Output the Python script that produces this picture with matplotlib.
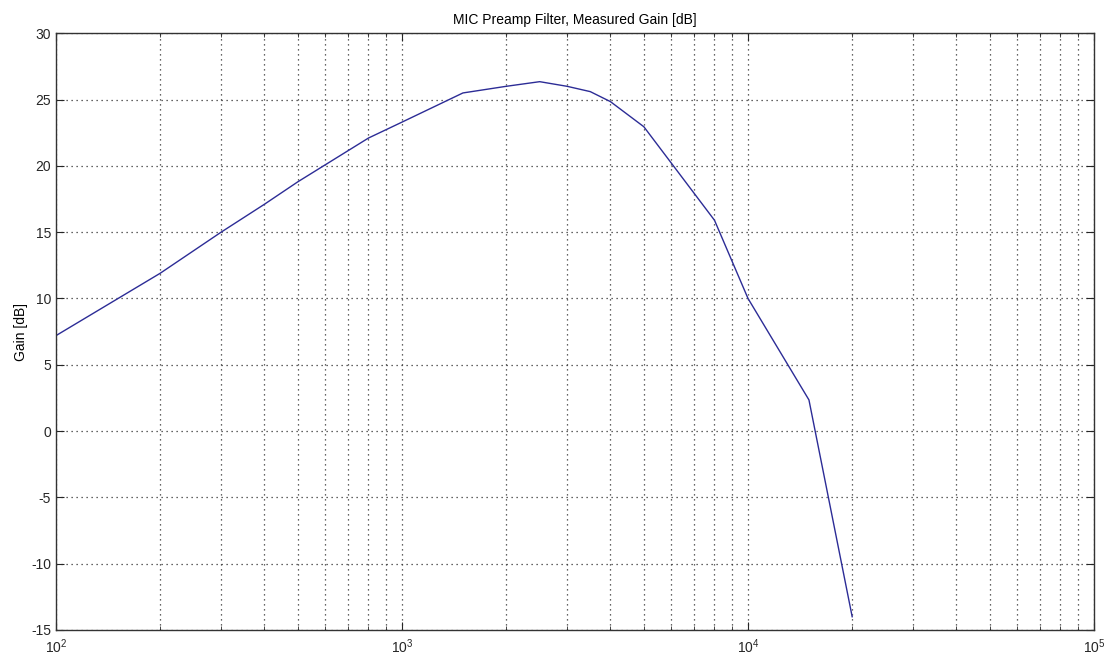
import matplotlib
matplotlib.use("Agg")
import matplotlib.pyplot as plt
from matplotlib.ticker import LogLocator, MultipleLocator, NullFormatter

plt.rcParams['font.family'] = ['Liberation Sans', 'DejaVu Sans']
plt.rcParams['mathtext.fontset'] = 'custom'
plt.rcParams['mathtext.rm'] = 'Liberation Sans'
plt.rcParams['axes.unicode_minus'] = False

# measured points
freq = [100, 200, 300, 400, 500, 800, 1000, 1500, 2000, 2500, 3000, 3500,
        4000, 5000, 8000, 10000, 15000, 20000]
gain = [7.2, 11.9, 15.0, 17.1, 18.8, 22.1, 23.3, 25.5, 26.0, 26.35, 26.0,
        25.6, 24.85, 22.95, 15.9, 10.0, 2.35, -14.0]

fig = plt.figure(figsize=(11.09, 6.55), dpi=100)
ax = fig.add_axes([0.0505, 0.0382, 0.936, 0.911])

ax.semilogx(freq, gain, color='#2c2c96', lw=1.0)

ax.set_xlim(1e2, 1e5)
ax.set_ylim(-15, 30)
ax.yaxis.set_major_locator(MultipleLocator(5))
ax.xaxis.set_major_locator(LogLocator(base=10))
ax.xaxis.set_minor_locator(LogLocator(base=10, subs=range(2, 10)))
ax.xaxis.set_minor_formatter(NullFormatter())

grid_style = dict(color='0.2', linestyle=(0, (1, 3)), lw=0.9)
ax.grid(True, which='major', **grid_style)
ax.grid(True, which='minor', axis='x', **grid_style)

ax.tick_params(which='both', direction='in', top=True, right=True,
               labelsize=10, colors='0.15')
ax.tick_params(which='major', length=6)
ax.tick_params(which='minor', length=3)
ax.tick_params(axis='x', pad=5)
for sp in ax.spines.values():
    sp.set_color('0.2')
    sp.set_linewidth(1.0)

ax.set_title("MIC Preamp Filter, Measured Gain [dB]", fontsize=10, pad=7)
ax.set_ylabel("Gain [dB]", fontsize=10, labelpad=2)

fig.savefig("out.png", dpi=100)
